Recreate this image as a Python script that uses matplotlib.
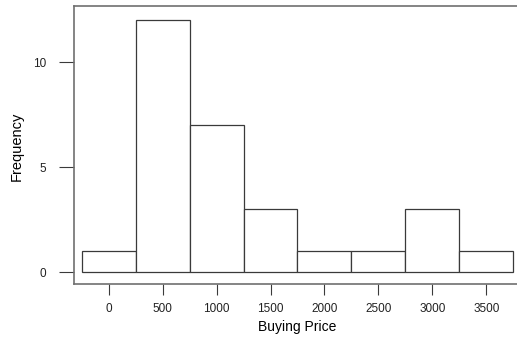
import matplotlib.pyplot as plt
from matplotlib import font_manager

# histogram of buying prices
bin_centers = [0, 500, 1000, 1500, 2000, 2500, 3000, 3500]
counts = [1, 12, 7, 3, 1, 1, 3, 1]
bin_width = 500
x_ticks = [0, 500, 1000, 1500, 2000, 2500, 3000, 3500]
y_ticks = [0, 5, 10]

names = {f.name for f in font_manager.fontManager.ttflist}
fam = 'Liberation Sans Narrow' if 'Liberation Sans Narrow' in names else 'Liberation Sans'
plt.rcParams['font.family'] = [fam, 'DejaVu Sans']

W, H = 517, 337
fig = plt.figure(figsize=(W / 100, H / 100), dpi=100)
# axes box in pixel terms: left 74, top 6, bottom 284, right runs off the edge
ax = fig.add_axes([74 / W, (H - 284) / H, (524 - 74) / W, (284 - 6) / H])

ax.bar(bin_centers, counts, width=bin_width, color='white',
       edgecolor='#3a3a3a', linewidth=0.9)

ax.set_xlim(-322, 3850)
ax.set_ylim(-0.57, 12.67)
ax.set_xticks(x_ticks)
ax.set_yticks(y_ticks)
ax.tick_params(axis='x', direction='out', length=8, width=0.8, color='#3a3a3a',
               labelsize=8.5, pad=6, labelcolor='#222222')
ax.tick_params(axis='y', direction='out', length=11, width=0.8, color='#3a3a3a',
               labelsize=8.5, pad=9, labelcolor='#222222')

for s in ax.spines.values():
    s.set_color('#707070')
    s.set_linewidth(1.2)

fig.text(297 / W, 1 - 327 / H, 'Buying Price', ha='center', va='center', fontsize=10)
fig.text(17 / W, 1 - 146 / H, 'Frequency', ha='center', va='center',
         rotation=90, fontsize=10.5)

fig.savefig('out.png', dpi=100)
